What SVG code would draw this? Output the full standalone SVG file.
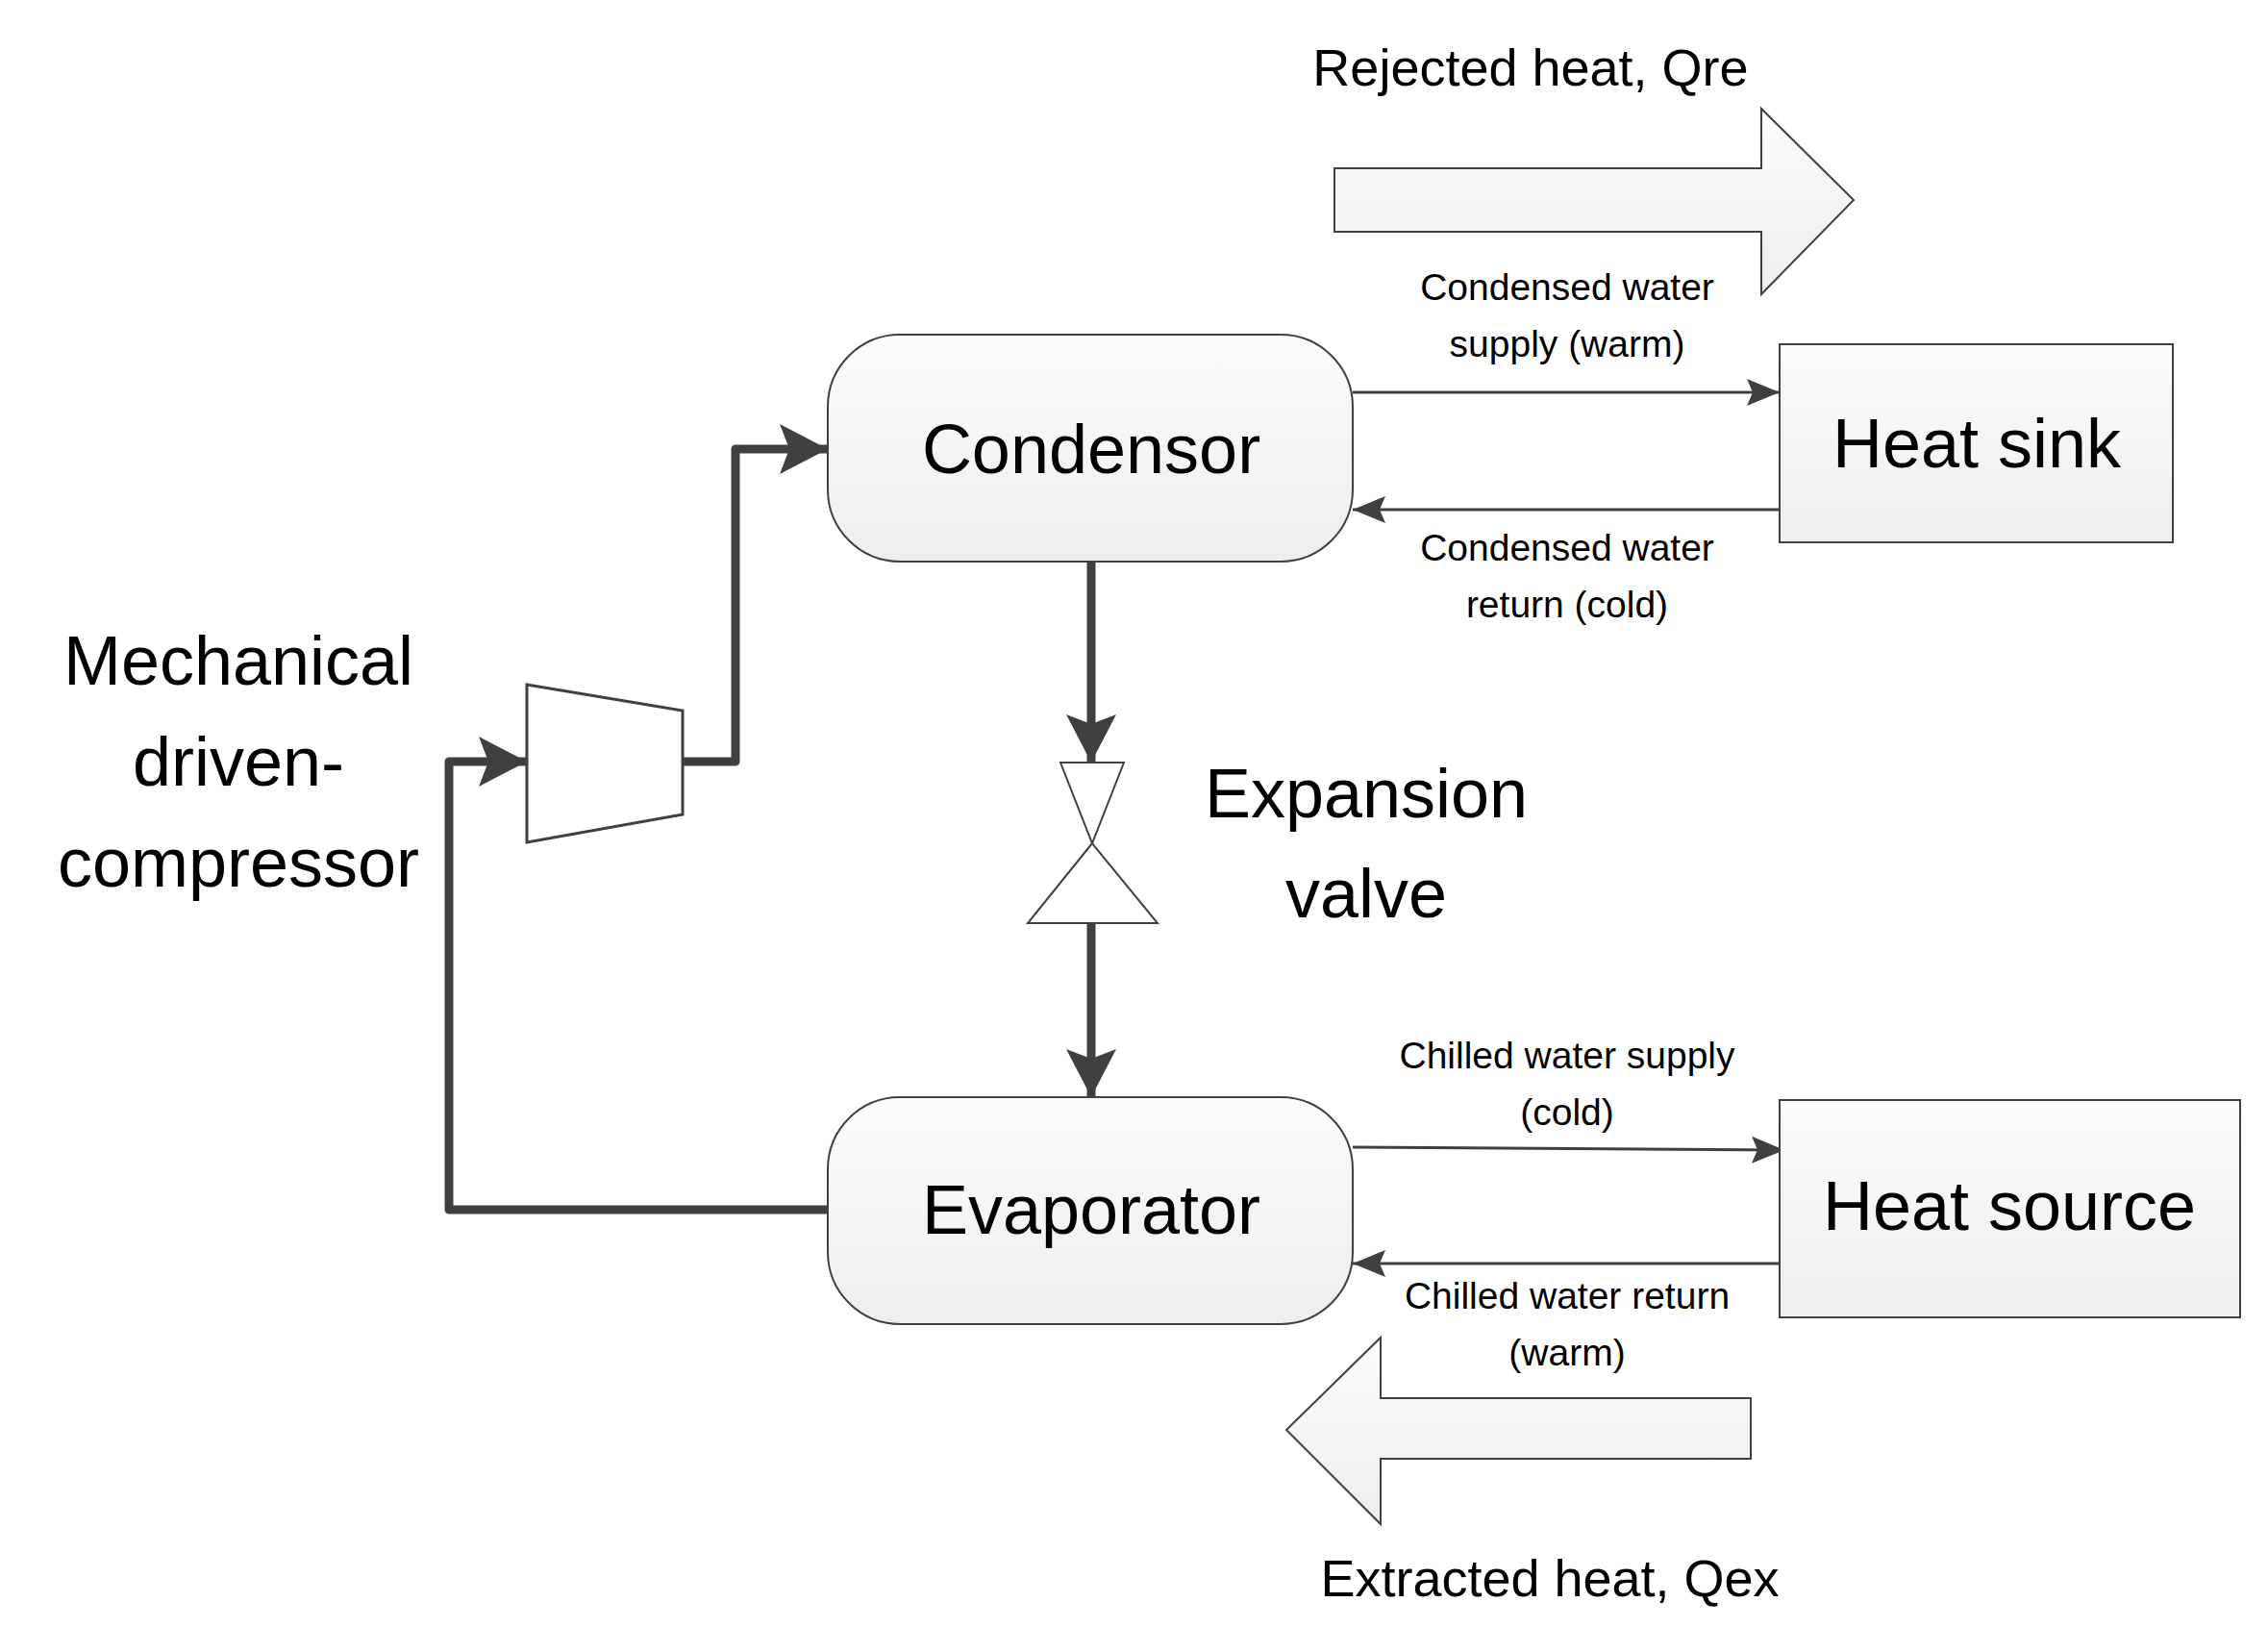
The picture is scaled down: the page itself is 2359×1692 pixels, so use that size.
<svg xmlns="http://www.w3.org/2000/svg" width="2359" height="1692" viewBox="0 0 2359 1692">
<defs>
<linearGradient id="g" x1="0" y1="0" x2="0" y2="1"><stop offset="0" stop-color="#fcfcfc"/><stop offset="1" stop-color="#eeeeee"/></linearGradient>
<marker id="big" markerUnits="userSpaceOnUse" markerWidth="60" markerHeight="60" refX="50" refY="26" orient="auto"><path d="M0,0 L50,26 L0,52 L10,26 Z" fill="#404040"/></marker>
<marker id="sm" markerUnits="userSpaceOnUse" markerWidth="40" markerHeight="40" refX="34" refY="14" orient="auto"><path d="M0,0 L34,14 L0,28 L6,14 Z" fill="#404040"/></marker>
</defs>
<style>
text{font-family:"Liberation Sans",Arial,sans-serif;fill:#000;text-anchor:middle}
.big{font-size:72px}.med{font-size:54px}.sml{font-size:39px}
.box{fill:url(#g);stroke:#404040;stroke-width:2}
.thick{fill:none;stroke:#404040;stroke-width:9;stroke-linejoin:round}
.thin{fill:none;stroke:#404040;stroke-width:3}
.fat{fill:url(#g);stroke:#404040;stroke-width:2}
</style>
<rect width="2359" height="1692" fill="#fff"/>
<g id="connectors">
<polyline class="thick" points="710,792 765,792 765,467 861,467" marker-end="url(#big)"/>
<polyline class="thick" points="861,1258 467,1258 467,792 548,792" marker-end="url(#big)"/>
<line class="thick" x1="1135" y1="584" x2="1135" y2="793" marker-end="url(#big)"/>
<line class="thick" x1="1135" y1="960" x2="1135" y2="1141" marker-end="url(#big)"/>
<line class="thin" x1="1407" y1="408" x2="1851" y2="408" marker-end="url(#sm)"/>
<line class="thin" x1="1851" y1="530" x2="1407" y2="530" marker-end="url(#sm)"/>
<line class="thin" x1="1407" y1="1193" x2="1856" y2="1196" marker-end="url(#sm)"/>
<line class="thin" x1="1856" y1="1314" x2="1407" y2="1314" marker-end="url(#sm)"/>
</g>
<g id="condensor"><rect class="box" x="861" y="348" width="546" height="236" rx="75"/><text class="big" x="1135" y="492">Condensor</text></g>
<g id="heat-sink"><rect class="box" x="1851" y="358" width="409" height="206"/><text class="big" x="2056" y="486">Heat sink</text></g>
<g id="evaporator"><rect class="box" x="861" y="1141" width="546" height="236" rx="75"/><text class="big" x="1135" y="1283">Evaporator</text></g>
<g id="heat-source"><rect class="box" x="1851" y="1144" width="479" height="226"/><text class="big" x="2090" y="1279">Heat source</text></g>
<g id="compressor"><polygon points="548,712 710,739 710,847 548,876" fill="#fff" stroke="#404040" stroke-width="3"/>
<text class="big" x="248" y="712">Mechanical</text><text class="big" x="248" y="817">driven-</text><text class="big" x="248" y="922">compressor</text></g>
<g id="expansion-valve"><polygon points="1103,793 1169,793 1136,877" fill="#fff" stroke="#404040" stroke-width="2"/><polygon points="1136,877 1069,960 1204,960" fill="#fff" stroke="#404040" stroke-width="2"/>
<text class="big" x="1421" y="850">Expansion</text><text class="big" x="1421" y="954">valve</text></g>
<g id="rejected-heat"><polygon class="fat" points="1388,175 1832,175 1832,113 1928,208 1832,306 1832,241 1388,241"/><text class="med" x="1592" y="89">Rejected heat, Qre</text></g>
<g id="extracted-heat"><polygon class="fat" points="1821,1454 1436,1454 1436,1391 1338,1487 1436,1585 1436,1517 1821,1517"/><text class="med" x="1612" y="1660">Extracted heat, Qex</text></g>
<g id="labels">
<text class="sml" x="1630" y="312">Condensed water</text><text class="sml" x="1630" y="371">supply (warm)</text>
<text class="sml" x="1630" y="583">Condensed water</text><text class="sml" x="1630" y="642">return (cold)</text>
<text class="sml" x="1630" y="1111">Chilled water supply</text><text class="sml" x="1630" y="1170">(cold)</text>
<text class="sml" x="1630" y="1361">Chilled water return</text><text class="sml" x="1630" y="1420">(warm)</text>
</g>
</svg>
